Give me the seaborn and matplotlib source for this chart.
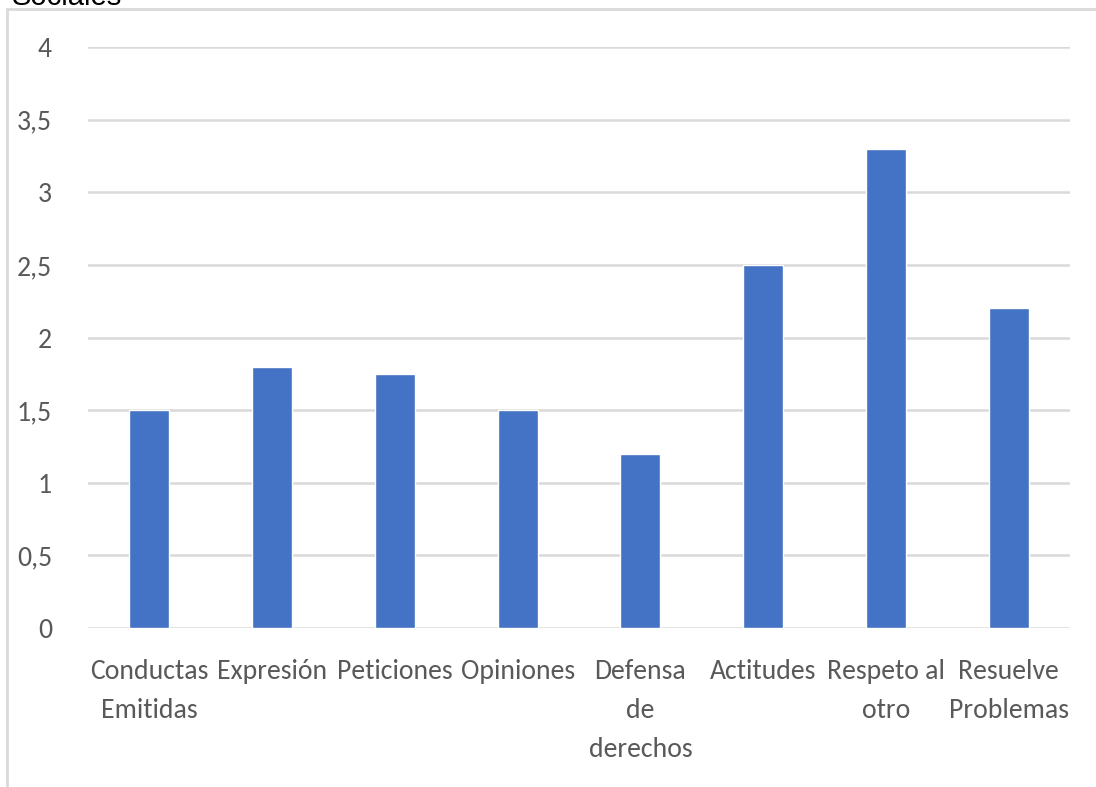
import matplotlib
matplotlib.use("Agg")
import matplotlib.pyplot as plt
import seaborn as sns
import pandas as pd
from matplotlib.patches import Rectangle

categories = ["Conductas\nEmitidas", "Expresión", "Peticiones", "Opiniones",
              "Defensa\nde\nderechos", "Actitudes", "Respeto al\notro", "Resuelve\nProblemas"]
values = [1.5, 1.8, 1.75, 1.5, 1.2, 2.5, 3.3, 2.2]
yticks = [0, 0.5, 1, 1.5, 2, 2.5, 3, 3.5, 4]
ytick_labels = ["0", "0,5", "1", "1,5", "2", "2,5", "3", "3,5", "4"]
title = "Sociales"

sns.set_theme(style="white")
plt.rcParams['font.family'] = ['Carlito', 'DejaVu Sans']

df = pd.DataFrame({"cat": categories, "val": values})

fig = plt.figure(figsize=(10.96, 7.87), dpi=100)
ax = fig.add_axes([88/1096, 1-628/787, (1070-88)/1096, (628-47)/787])

sns.barplot(data=df, x="cat", y="val", color="#4472C4", saturation=1, width=0.325, ax=ax)

ax.set_ylim(0, 4)
ax.set_xlim(-0.5, len(categories)-0.5)
ax.set_yticks(yticks)
ax.set_yticklabels(ytick_labels)
ax.yaxis.grid(True, color="#D9D9D9", linewidth=1.8)
ax.set_axisbelow(True)
for s in ax.spines.values():
    s.set_visible(False)
ax.set_xlabel("")
ax.set_ylabel("")
ax.tick_params(axis="both", length=0, labelsize=20, labelcolor="#595959")
ax.tick_params(axis="y", pad=26)
ax.tick_params(axis="x", pad=22)
for lab in ax.get_xticklabels():
    lab.set_linespacing(1.7)
    lab.set_multialignment("center")

fig.patches.append(Rectangle((7/1096, -0.1), 1.2, 1.1 - 9/787, transform=fig.transFigure,
                             fill=False, edgecolor="#D9D9D9", linewidth=2))
fig.text(12/1096, 1 + 3/787, title, fontsize=21, color="#000000",
         family=['Liberation Sans', 'DejaVu Sans'], va="center", ha="left")

fig.savefig("out.png", dpi=100)
